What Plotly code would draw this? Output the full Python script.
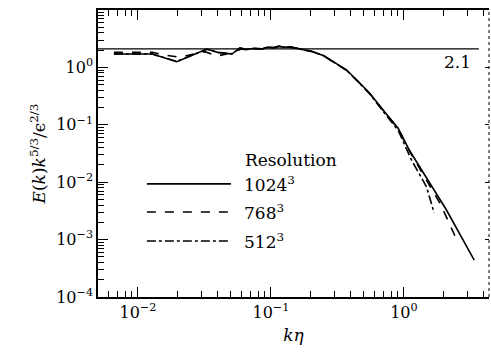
import plotly.graph_objects as go

# ---- data ----
k_1024 = [0.0066, 0.0128, 0.0196, 0.0330, 0.040, 0.051, 0.0585, 0.066, 0.075, 0.085, 0.095,
          0.105, 0.115, 0.125, 0.14, 0.16, 0.18, 0.207, 0.25, 0.30, 0.371, 0.45, 0.554, 0.70,
          0.807, 0.906, 1.1, 1.4, 1.7, 2.09, 2.6, 3.38]
E_1024 = [1.71, 1.71, 1.26, 2.09, 1.82, 1.71, 2.18, 2.05, 2.15, 2.10, 2.25,
          2.20, 2.35, 2.25, 2.28, 2.15, 2.05, 1.88, 1.60, 1.21, 0.90, 0.58, 0.354, 0.18,
          0.121, 0.087, 0.036, 0.0143, 0.0071, 0.00328, 0.00133, 0.00044]

k_768 = [0.0066, 0.0128, 0.016, 0.0207, 0.0319, 0.0391, 0.0465, 0.0603, 0.066, 0.075, 0.085,
         0.095, 0.105, 0.115, 0.125, 0.14, 0.16, 0.18, 0.207, 0.25, 0.30, 0.371, 0.45, 0.554,
         0.70, 0.807, 0.906, 1.1, 1.4, 1.87, 2.2, 2.51]
E_768 = [1.83, 1.83, 1.64, 1.50, 1.88, 1.58, 1.71, 2.09, 2.02, 2.12, 2.08,
         2.22, 2.18, 2.32, 2.24, 2.26, 2.13, 2.04, 1.87, 1.59, 1.20, 0.89, 0.575, 0.35,
         0.178, 0.119, 0.085, 0.035, 0.0135, 0.0043, 0.0019, 0.00096]

k_512 = [0.0066, 0.0128, 0.0196, 0.0330, 0.040, 0.051, 0.0585, 0.066, 0.075, 0.085, 0.095,
         0.105, 0.115, 0.125, 0.14, 0.16, 0.18, 0.207, 0.25, 0.30, 0.371, 0.45, 0.554, 0.70,
         0.807, 0.906, 1.14, 1.48, 1.69]
E_512 = [1.71, 1.71, 1.27, 2.07, 1.83, 1.72, 2.16, 2.06, 2.14, 2.11, 2.24,
         2.21, 2.33, 2.26, 2.27, 2.14, 2.04, 1.87, 1.59, 1.20, 0.89, 0.57, 0.345, 0.17,
         0.113, 0.080, 0.0244, 0.0083, 0.0029]

ref_k = [0.005, 3.66]
ref_value = 2.1

x_tickvals = [0.01, 0.1, 1]
x_ticktext = ["10<sup>−2</sup>", "10<sup>−1</sup>", "10<sup>0</sup>"]
y_tickvals = [1e-4, 1e-3, 1e-2, 1e-1, 1, 10]
y_ticktext = ["10<sup>−4</sup>", "10<sup>−3</sup>", "10<sup>−2</sup>",
              "10<sup>−1</sup>", "10<sup>0</sup>", "10<sup>1</sup>"]

series_names = ["1024<sup>3</sup>", "768<sup>3</sup>", "512<sup>3</sup>"]
series_dash = ["solid", "dash", "dashdot"]

FONT = "DejaVu Serif"
TXT = 17
TICK = 16

fig = go.Figure()
fig.add_trace(go.Scatter(x=ref_k, y=[ref_value, ref_value], mode="lines",
                         line=dict(color="black", width=1.2), showlegend=False))
for k, E, d in [(k_1024, E_1024, "solid"), (k_768, E_768, "dash"), (k_512, E_512, "dashdot")]:
    fig.add_trace(go.Scatter(x=k, y=E, mode="lines",
                             line=dict(color="black", width=1.6, dash=d), showlegend=False))

# invisible trace for right-hand axis ticks
fig.add_trace(go.Scatter(x=[0.01], y=[1], yaxis="y2", mode="markers",
                         marker=dict(opacity=0), showlegend=False, hoverinfo="skip"))

fig.add_annotation(x=0.92, y=0.819, xref="paper", yref="paper", text="2.1", showarrow=False,
                   font=dict(family=FONT, size=TXT, color="black"),
                   xanchor="center", yanchor="middle")

# manual legend
fig.add_annotation(x=0.371, y=0.477, xref="paper", yref="paper", text="Resolution",
                   showarrow=False, xanchor="left", yanchor="middle",
                   font=dict(family=FONT, size=TXT, color="black"))
rows = [0.394, 0.296, 0.195]
for name, d, yy in zip(series_names, series_dash, rows):
    fig.add_shape(type="line", xref="paper", yref="paper", x0=0.125, x1=0.340, y0=yy, y1=yy,
                  line=dict(color="black", width=1.6, dash=d))
    fig.add_annotation(x=0.3675, y=yy, xref="paper", yref="paper", text=name, showarrow=False,
                       xanchor="left", yanchor="middle",
                       font=dict(family=FONT, size=TXT, color="black"))

# dotted right spine
fig.add_shape(type="line", xref="paper", yref="paper", x0=1, x1=1, y0=0, y1=1,
              line=dict(color="black", width=1, dash="dot"))

fig.update_layout(
    width=491, height=359,
    margin=dict(l=98, r=2, t=10, b=62),
    paper_bgcolor="white", plot_bgcolor="white",
    font=dict(family=FONT, size=TXT, color="black"),
    xaxis=dict(type="log", range=[-2.30, 0.64], showgrid=False, zeroline=False,
               showline=True, linecolor="black", linewidth=1.5, mirror="ticks",
               ticks="inside", ticklen=10, tickwidth=1.3, tickcolor="black",
               tickvals=x_tickvals, ticktext=x_ticktext,
               tickfont=dict(family=FONT, size=TICK),
               minor=dict(ticks="inside", ticklen=6, tickwidth=1.2, dtick="D1",
                          tickcolor="black", showgrid=False),
               title=dict(text="<i>kη</i>", font=dict(family=FONT, size=TXT), standoff=8)),
    yaxis=dict(type="log", range=[-4, 1], showgrid=False, zeroline=False,
               showline=True, linecolor="black", linewidth=1.5,
               ticks="inside", ticklen=10, tickwidth=1.3, tickcolor="black",
               tickvals=y_tickvals, ticktext=y_ticktext,
               tickfont=dict(family=FONT, size=TICK),
               minor=dict(ticks="inside", ticklen=6, tickwidth=1.2, dtick="D1",
                          tickcolor="black", showgrid=False),
               title=dict(text="<i>E</i>(<i>k</i>)<i>k</i><sup>5/3</sup>/ϵ<sup>2/3</sup>",
                          font=dict(family=FONT, size=TXT), standoff=6)),
    yaxis2=dict(type="log", range=[-4, 1], overlaying="y", side="right", showgrid=False,
                zeroline=False, showline=False, ticks="inside", ticklen=4, tickwidth=1,
                tickcolor="black", tickvals=y_tickvals, showticklabels=False),
)

fig.write_html("out.html")
